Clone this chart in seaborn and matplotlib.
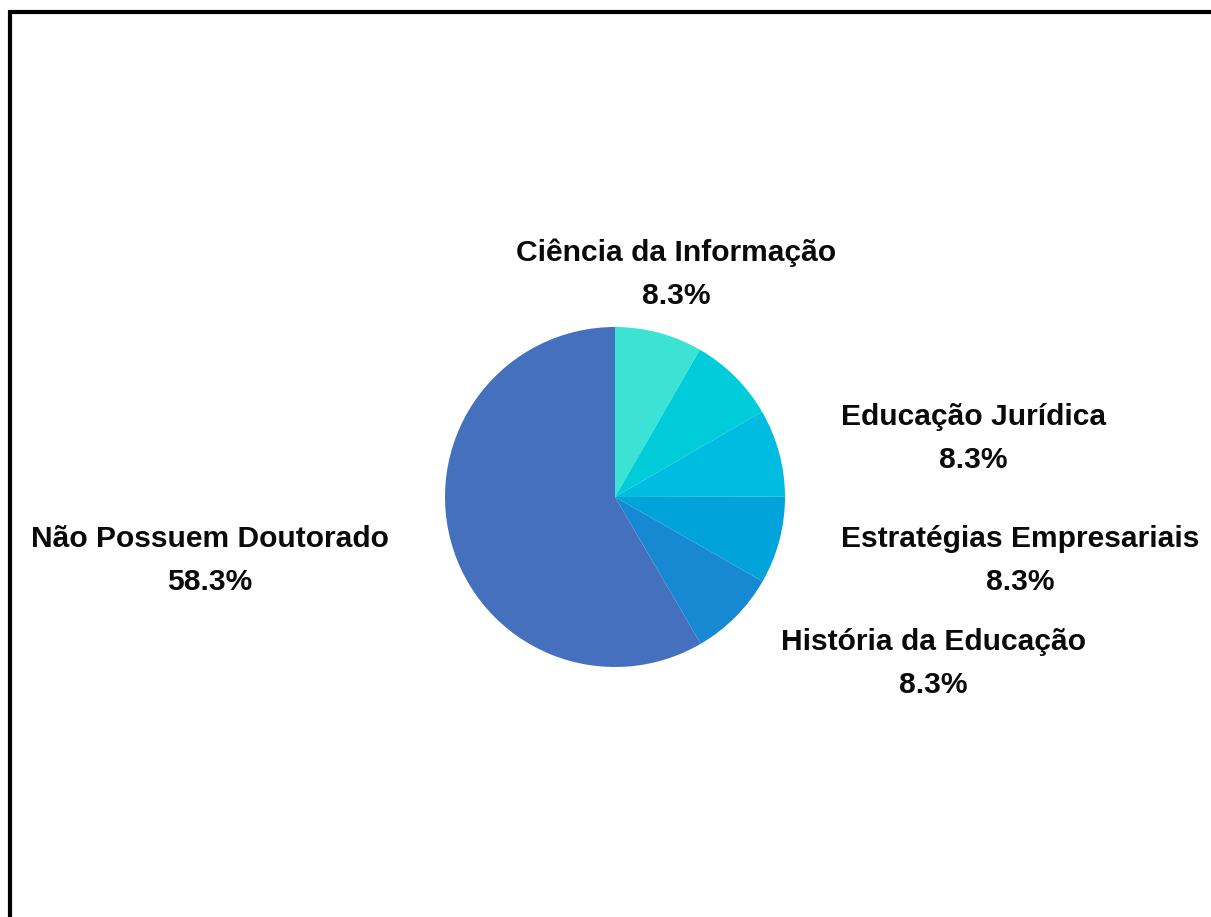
import matplotlib
matplotlib.use("Agg")
import matplotlib.pyplot as plt
from matplotlib.patches import Rectangle
from matplotlib.font_manager import FontProperties
import seaborn as sns

# Shares of faculty by doctoral area (clockwise from 12 o'clock)
areas = ["Ciência da Informação", "", "Educação Jurídica",
         "Estratégias Empresariais", "História da Educação",
         "Não Possuem Doutorado"]
shares = [8.3, 8.3, 8.3, 8.3, 8.3, 58.3]
slice_colors = ["#3CE3D5", "#00CDD9", "#00BCE0", "#00A3DA", "#1789D3", "#4470BE"]

sns.set_theme(style="white")
plt.rcParams["font.family"] = ["Liberation Sans", "DejaVu Sans"]

W, H = 1211, 917
fig = plt.figure(figsize=(W / 100, H / 100), dpi=100)
ax = fig.add_axes([0, 0, 1, 1])

cx, cy, r = 615, H - 497, 170
palette = sns.color_palette(slice_colors)
ax.pie(shares, colors=palette, startangle=90, counterclock=False,
       center=(cx, cy), radius=r, frame=True,
       wedgeprops=dict(linewidth=0))
ax.set_xlim(0, W)
ax.set_ylim(0, H)
ax.set_aspect("equal")
ax.axis("off")

# label anchors: (x, y of first line in pixels from top, horizontal alignment)
label_layout = [
    (676, 253, "center"),
    None,
    (841, 417, "left"),
    (841, 539, "left"),
    (781, 642, "left"),
    (389, 539, "right"),
]
fp = FontProperties(family="Liberation Sans", weight="bold",
                    stretch="normal", size=21.6)
for name, val, lay in zip(areas, shares, label_layout):
    if not name or lay is None:
        continue
    x, y, ha = lay
    t = ax.text(x, H - y, name, ha=ha, va="center", fontproperties=fp,
                color="#0a0a0a")
    fig.canvas.draw()
    bb = t.get_window_extent()
    mid = (bb.x0 + bb.x1) / 2
    ax.text(mid, H - y - 43, f"{val:.1f}%", ha="center", va="center",
            fontproperties=fp, color="#0a0a0a")

# outer frame
fig.patches.append(Rectangle((10, -20), 1300, H - 12 + 20, transform=None,
                             fill=False, edgecolor="black", linewidth=3))

fig.savefig("out.png", dpi=100, facecolor="white")
